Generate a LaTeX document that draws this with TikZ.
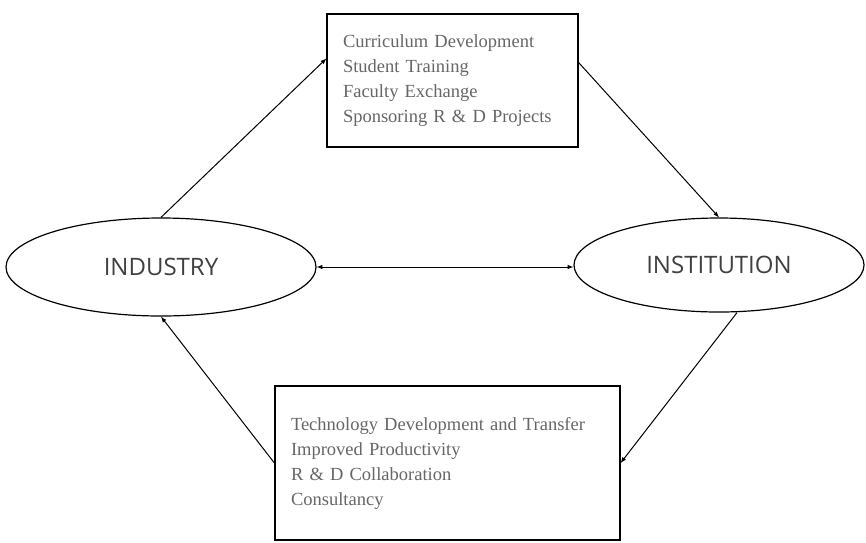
\documentclass[tikz,border=0pt]{standalone}
\usepackage{fontspec}
\setmainfont{Liberation Serif}
\newfontfamily\labelfont{Open Sans}
\usetikzlibrary{shapes.geometric}

\begin{document}
\begin{tikzpicture}[x=1pt, y=-1pt, >=latex,
    party/.style={ellipse, draw, line width=1.2pt, inner sep=0pt,
      font=\labelfont\fontsize{24}{28}\selectfont, text=black!75},
    activity/.style={rectangle, draw, line width=1.2pt, align=left,
      inner xsep=16pt, font=\fontsize{18.5}{25}\selectfont, text=black!60},
    link/.style={->, line width=1pt},
    ]
    \useasboundingbox (0,0) rectangle (866,542);
    \node[party, minimum width=310pt, minimum height=98pt] (ind) at (161,267) {INDUSTRY};
    \node[party, minimum width=290pt, minimum height=94pt] (inst) at (719,265) {INSTITUTION};
    \node[activity, text width=219pt, minimum height=133pt] (cur) at (452.5,80.5)
      {Curriculum Development\\ Student Training\\ Faculty Exchange\\ Sponsoring R \& D Projects};
    \node[activity, text width=313pt, minimum height=154pt] (tech) at (447.5,463)
      {Technology Development and Transfer\\ Improved Productivity\\ R \& D Collaboration\\ Consultancy};
    \draw[link] (ind.north) -- ([yshift=22pt]cur.west);
    \draw[link] ([yshift=18pt]cur.east) -- (inst.north);
    \draw[link] ([xshift=18pt]inst.south) -- (tech.east);
    \draw[link] (tech.west) -- (ind.south);
    \draw[<->, line width=1pt] (ind.east) -- (ind.east -| inst.west);
  \end{tikzpicture}
\end{document}
